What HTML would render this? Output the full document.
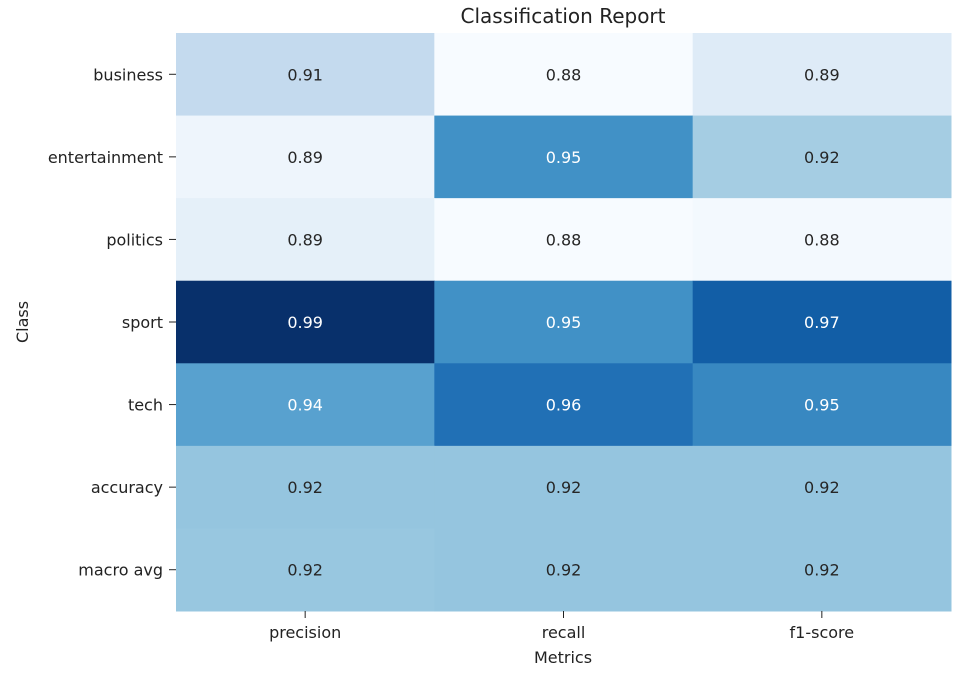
<!DOCTYPE html>
<html><head><meta charset="utf-8"><style>
html,body{margin:0;padding:0;background:#fff;width:979px;height:674px;overflow:hidden}
svg text{font-family:"DejaVu Sans","Liberation Sans",sans-serif}
</style></head><body>
<svg id="chart" width="979" height="674" xmlns="http://www.w3.org/2000/svg">
<text x="563" y="23" font-size="20" text-anchor="middle" fill="#222">Classification Report</text>
<g id="cells"></g><g id="ylabels"></g><g id="xlabels"></g>
<text x="563" y="663" font-size="16" text-anchor="middle" fill="#222">Metrics</text>
<text transform="translate(28,322) rotate(-90)" font-size="16" text-anchor="middle" fill="#222">Class</text>
</svg>
<script>
const classes=["business","entertainment","politics","sport","tech","accuracy","macro avg"];
const metrics=["precision","recall","f1-score"];
const precision=[0.906,0.882,0.887,0.990,0.940,0.922,0.921];
const recall=[0.877,0.948,0.877,0.948,0.962,0.922,0.922];
const f1score=[0.891,0.917,0.879,0.970,0.952,0.922,0.922];
const labels=[["0.91","0.88","0.89"],["0.89","0.95","0.92"],["0.89","0.88","0.88"],["0.99","0.95","0.97"],["0.94","0.96","0.95"],["0.92","0.92","0.92"],["0.92","0.92","0.92"]];
const series=[precision,recall,f1score];
const vmin=0.877,vmax=0.990;
const X0=176,X1=951,Y0=33,Y1=611;
const cw=(X1-X0)/metrics.length,ch=(Y1-Y0)/classes.length;
const xPos=j=>X0+j*cw, yPos=i=>Y0+i*ch;
const stops=["#f7fbff","#deebf7","#c6dbef","#9ecae1","#6baed6","#4292c6","#2171b5","#08519c","#08306b"].map(h=>[1,3,5].map(k=>parseInt(h.substr(k,2),16)));
function cmap(v){let t=Math.max(0,Math.min(1,(v-vmin)/(vmax-vmin)));let p=t*8,i=Math.min(7,Math.floor(p)),f=p-i;const a=stops[i],b=stops[i+1];return {c:"rgb("+a.map((x,k)=>Math.round(x+(b[k]-x)*f)).join(",")+")",t};}
const NS="http://www.w3.org/2000/svg";
const cells=document.getElementById("cells"),yl=document.getElementById("ylabels"),xl=document.getElementById("xlabels");
classes.forEach((cls,i)=>{
 metrics.forEach((m,j)=>{
  const v=series[j][i],col=cmap(v);
  const r=document.createElementNS(NS,"rect");
  r.setAttribute("x",xPos(j));r.setAttribute("y",yPos(i));r.setAttribute("width",cw+0.5);r.setAttribute("height",ch+0.5);r.setAttribute("fill",col.c);
  
  
  cells.appendChild(r);
  const tx=document.createElementNS(NS,"text");
  tx.setAttribute("x",xPos(j)+cw/2);tx.setAttribute("y",yPos(i)+ch/2+6);tx.setAttribute("font-size","16");tx.setAttribute("text-anchor","middle");
  tx.setAttribute("fill",col.t>0.5?"#fff":"#262626");tx.textContent=labels[i][j];
  
  
  cells.appendChild(tx);
 });
 const t=document.createElementNS(NS,"text");
 t.setAttribute("x",163);t.setAttribute("y",yPos(i)+ch/2+6);t.setAttribute("font-size","16");t.setAttribute("text-anchor","end");t.setAttribute("fill","#222");t.textContent=cls;
 
 
 yl.appendChild(t);
 const l=document.createElementNS(NS,"line");
 l.setAttribute("x1",169);l.setAttribute("x2",176);l.setAttribute("y1",yPos(i)+ch/2);l.setAttribute("y2",yPos(i)+ch/2);l.setAttribute("stroke","#222");
 
 
 yl.appendChild(l);
});
metrics.forEach((m,j)=>{
 const l=document.createElementNS(NS,"line");
 l.setAttribute("x1",xPos(j)+cw/2);l.setAttribute("x2",xPos(j)+cw/2);l.setAttribute("y1",611);l.setAttribute("y2",618);l.setAttribute("stroke","#222");
 
 
 xl.appendChild(l);
 const t=document.createElementNS(NS,"text");
 t.setAttribute("x",xPos(j)+cw/2);t.setAttribute("y",638);t.setAttribute("font-size","16");t.setAttribute("text-anchor","middle");t.setAttribute("fill","#222");t.textContent=m;
 
 
 xl.appendChild(t);
});
</script>
</body></html>
